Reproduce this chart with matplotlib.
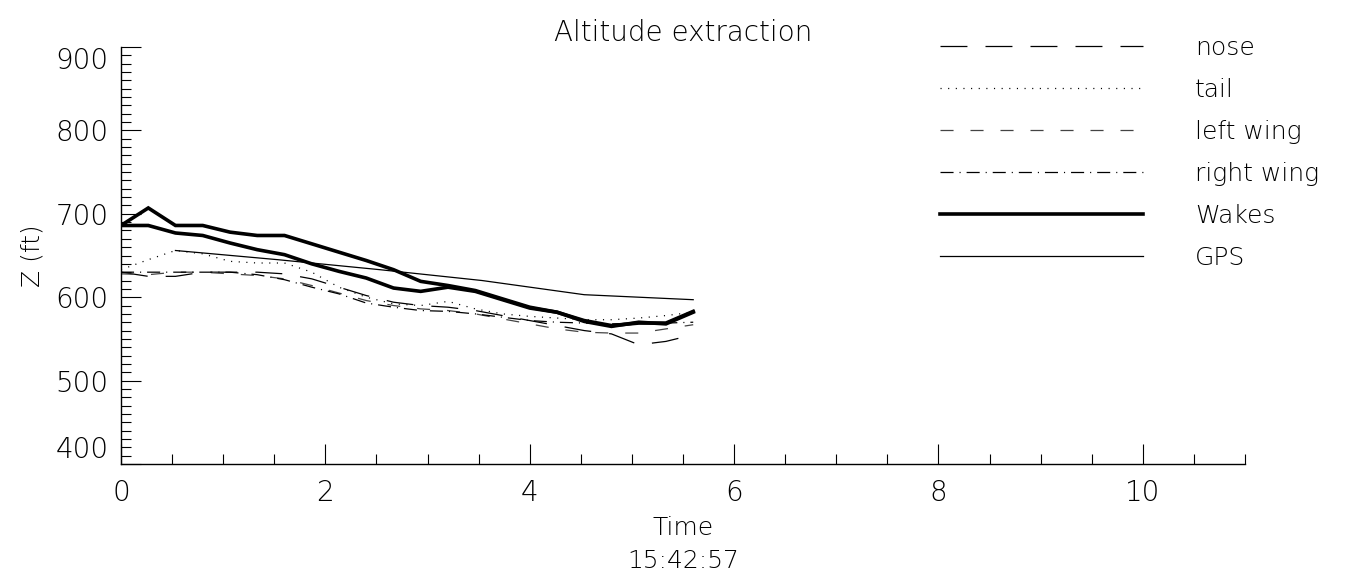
import matplotlib
matplotlib.use("Agg")
import matplotlib.pyplot as plt
import numpy as np

# Sample times (s) of the extracted points
time = [0.0, 0.267, 0.533, 0.8, 1.067, 1.333, 1.6, 1.867, 2.133, 2.4, 2.667,
        2.933, 3.2, 3.467, 3.733, 4.0, 4.267, 4.533, 4.8, 5.067, 5.333, 5.6]

nose = [630, 625, 625, 630, 630, 630, 628, 622, 612, 602, 594,
        590, 588, 584, 578, 572, 566, 560, 556, 543, 547, 555]
tail = [633, 645, 656, 652, 643, 641, 641, 630, 612, 600, 592,
        590, 595, 586, 580, 577, 575, 573, 573, 575, 578, 582]
left_wing = [628, 627, 630, 630, 628, 626, 622, 614, 605, 596, 590,
             586, 584, 580, 574, 568, 562, 558, 557, 557, 562, 567]
right_wing = [630, 630, 630, 630, 630, 627, 621, 612, 604, 593, 588,
              584, 583, 580, 576, 572, 570, 569, 568, 569, 569, 570]
wake_1 = [686, 707, 686, 686, 678, 674, 674, 664, 654, 644, 633,
          619, 614, 608, 598, 588, 582, 572, 566, 569, 569, 583]
wake_2 = [686, 686, 677, 674, 665, 657, 651, 640, 631, 623, 611,
          607, 612, 607, 597, 587, 582, 571, 565, 570, 568, 582]

gps_time = [0.533, 1.533, 2.533, 3.533, 4.533, 5.6]
gps = [656, 645, 633, 620, 603, 597]

x_ticks = [0, 2, 4, 6, 8, 10]
y_ticks = [400, 500, 600, 700, 800, 900]

plt.rcParams['font.family'] = ['DejaVu Sans']
plt.rcParams['font.weight'] = 'light'
plt.rcParams['axes.titleweight'] = 'light'
plt.rcParams['axes.labelweight'] = 'light'
plt.rcParams['lines.scale_dashes'] = False

fig = plt.figure(figsize=(13.51, 5.75), dpi=100)
ax = fig.add_axes([121 / 1351, 1 - 464 / 575, (1245 - 121) / 1351, (464 - 47) / 575])

thin = 0.9
ax.plot(time, nose, color='black', lw=thin, ls=(0, (19.4, 13.0)), label='nose')
ax.plot(time, tail, color='black', lw=thin, ls=(0, (0.8, 4.7)), label='tail')
ax.plot(time, left_wing, color='#444444', lw=thin, ls=(0, (9.4, 12.2)), label='left wing')
ax.plot(time, right_wing, color='black', lw=thin, ls=(0, (9.4, 4.3, 0.8, 4.3)), label='right wing')
ax.plot(time, wake_1, color='black', lw=2.6, solid_joinstyle='miter', label='Wakes')
ax.plot(time, wake_2, color='black', lw=2.6, solid_joinstyle='miter')
ax.plot(gps_time, gps, color='black', lw=thin, label='GPS')

ax.set_xlim(0, 11)
ax.set_ylim(400, 900)
for side in ('top', 'right'):
    ax.spines[side].set_visible(False)
for side in ('left', 'bottom'):
    ax.spines[side].set_linewidth(1.0)

ax.set_xticks(x_ticks)
ax.set_xticks(np.arange(0, 11.01, 0.5), minor=True)
ax.set_yticks(y_ticks)
ax.set_yticks(np.arange(400, 901, 10), minor=True)
ax.tick_params(axis='both', which='major', direction='in', length=14.4, width=0.8,
               labelsize=20)
ax.tick_params(axis='both', which='minor', direction='in', length=7.2, width=0.8)
ax.tick_params(axis='x', which='major', pad=11)
ax.tick_params(axis='y', which='major', pad=9)

ylabels = ax.get_yticklabels()
ylabels[0].set_va('bottom')
ylabels[-1].set_va('top')

ax.set_xlabel('Time\n15:42:57', fontsize=18, linespacing=1.5, labelpad=6)
ax.set_ylabel('Z (ft)', fontsize=18, labelpad=8)
ax.set_title('Altitude extraction', fontsize=20, pad=4)

leg = ax.legend(loc='upper left', bbox_to_anchor=(940 / 1351, 1 - 36 / 575),
                bbox_transform=fig.transFigure, frameon=False, fontsize=18,
                handlelength=8.1, handletextpad=2.1, labelspacing=0.72,
                borderpad=0, borderaxespad=0)

fig.savefig('out.png', dpi=100)
